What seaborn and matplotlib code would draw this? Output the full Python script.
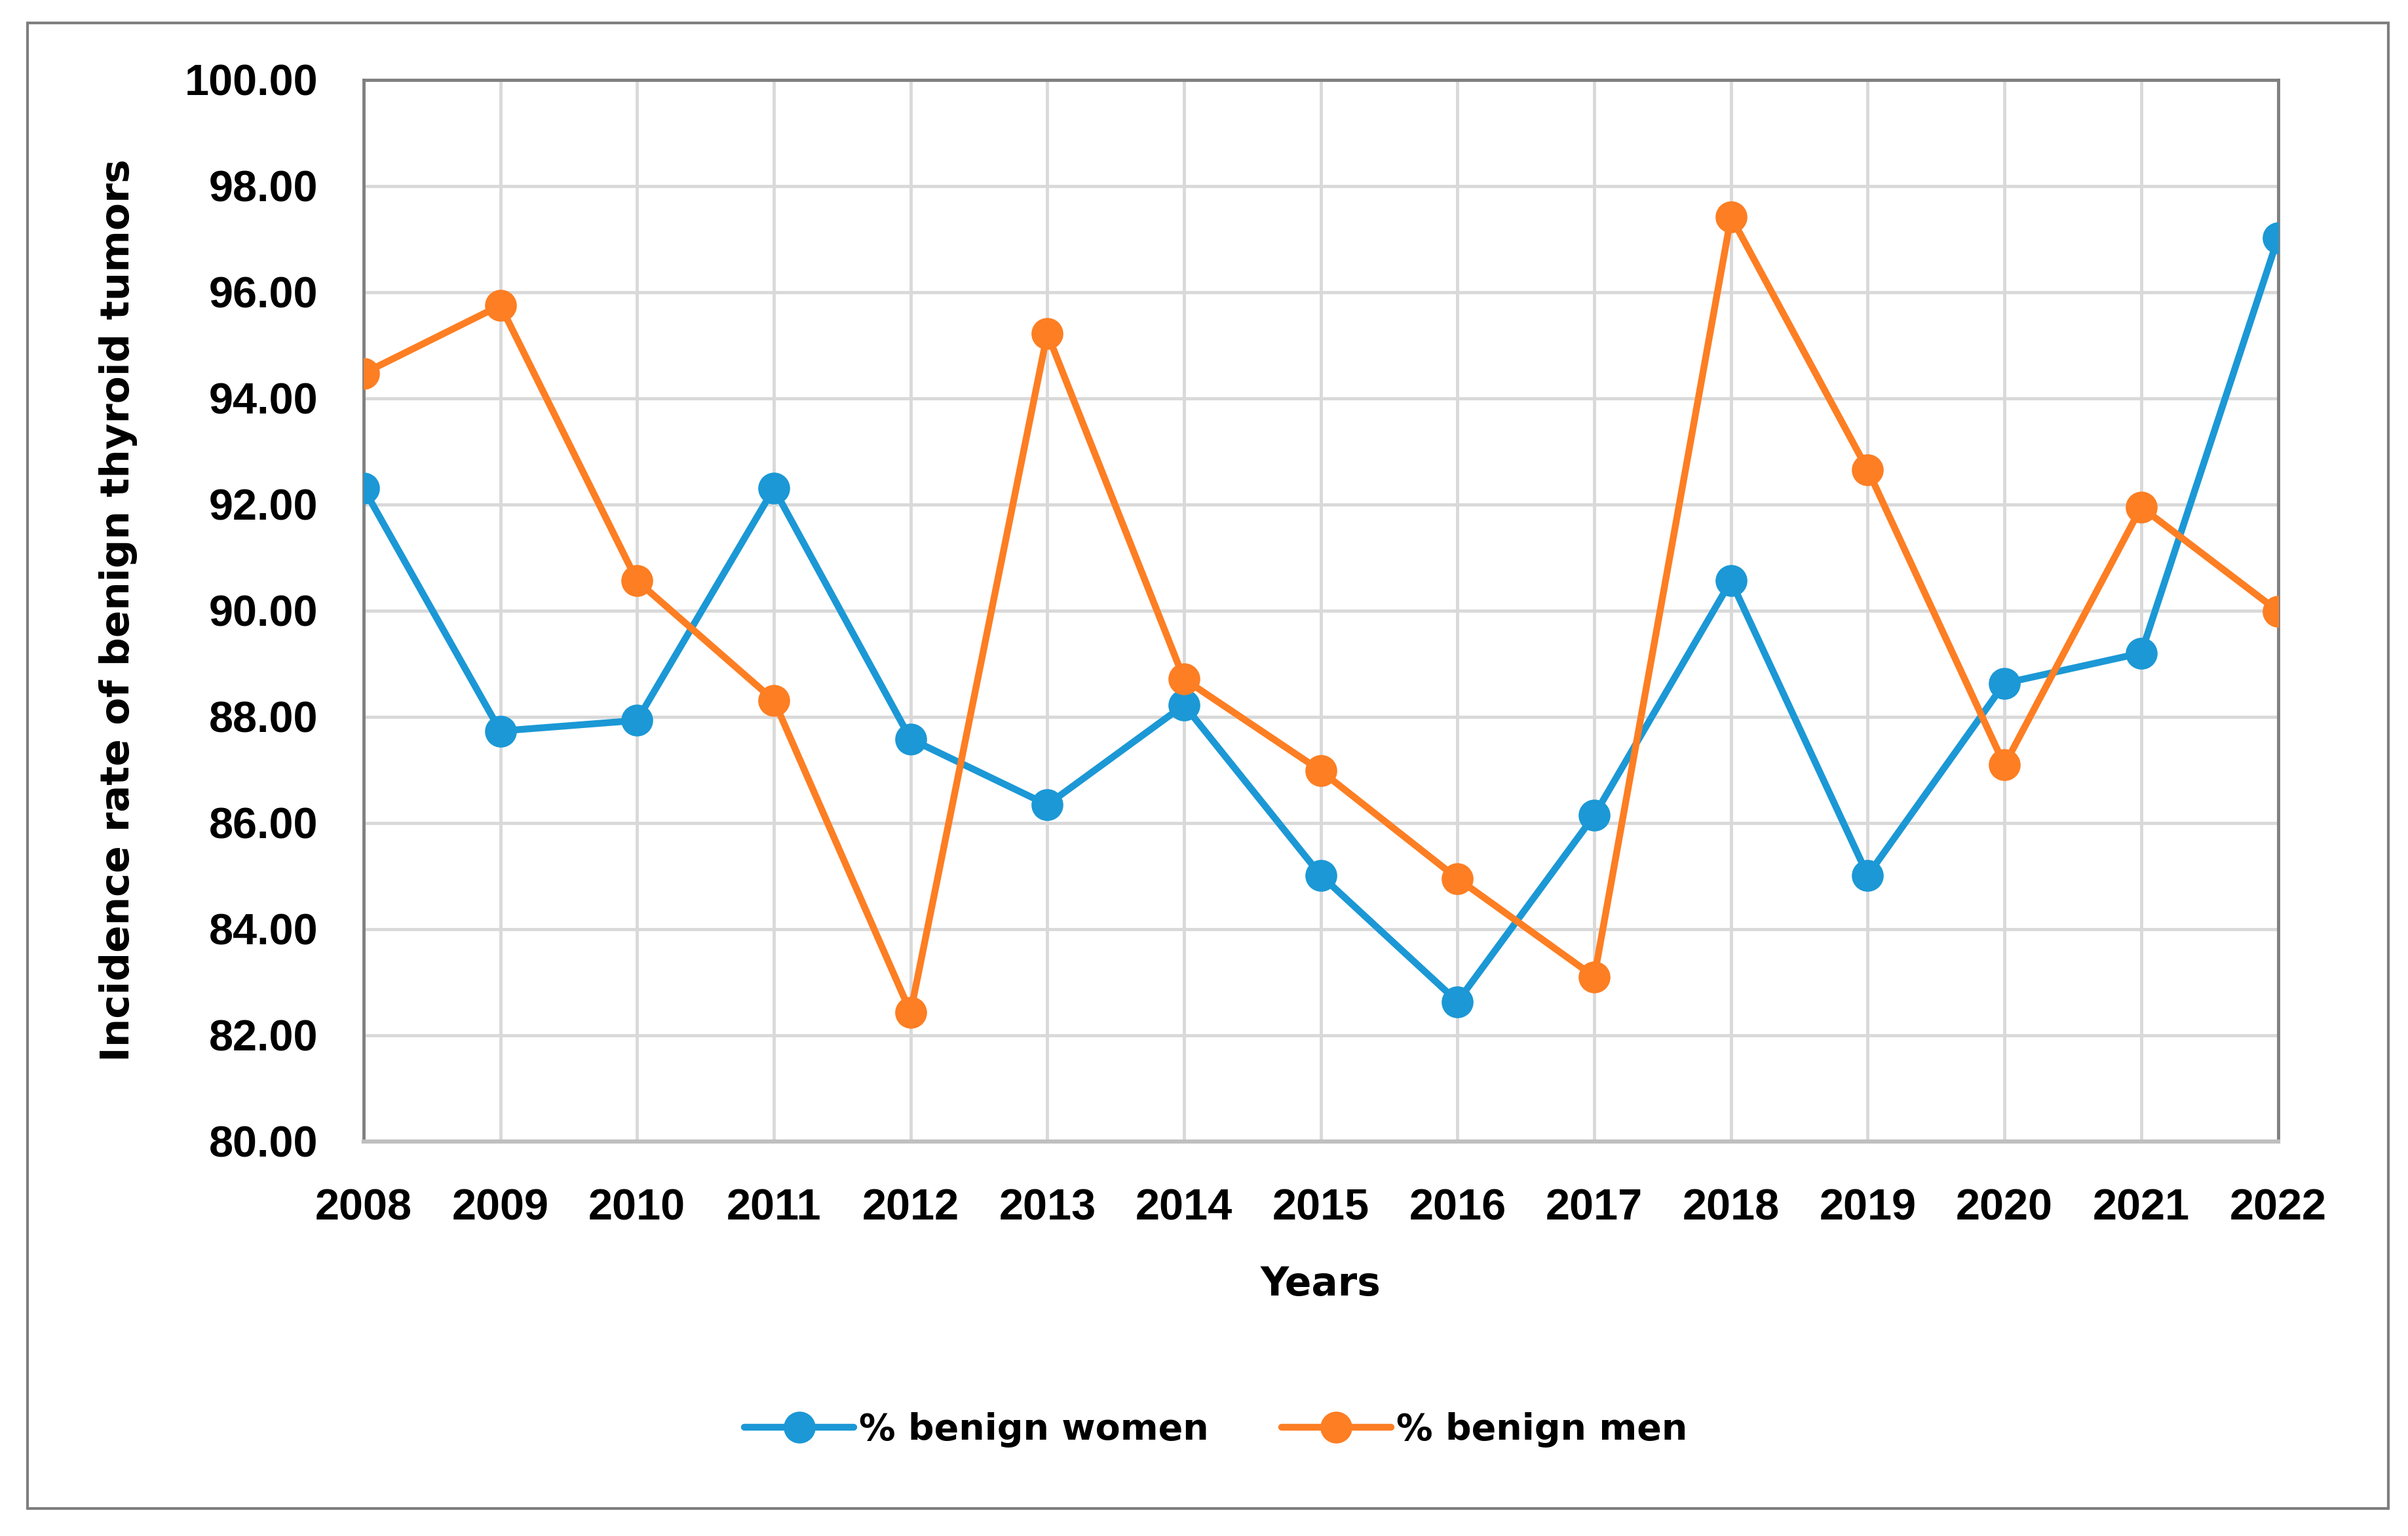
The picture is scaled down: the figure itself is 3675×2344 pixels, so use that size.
import matplotlib
matplotlib.use("Agg")
import matplotlib.pyplot as plt
from matplotlib.patches import Rectangle
import pandas as pd
import seaborn as sns

# values
years = [2008, 2009, 2010, 2011, 2012, 2013, 2014, 2015, 2016, 2017, 2018, 2019, 2020, 2021, 2022]
benign_women = [92.30, 87.73, 87.93, 92.30, 87.58, 86.34, 88.22, 85.01, 82.63, 86.14,
                90.56, 85.01, 88.63, 89.20, 97.02]
benign_men = [94.47, 95.75, 90.56, 88.31, 82.43, 95.22, 88.71, 86.98, 84.95, 83.10,
              97.42, 92.65, 87.09, 91.95, 89.99]
series_names = ["% benign women", "% benign men"]
y_ticks = [80, 82, 84, 86, 88, 90, 92, 94, 96, 98, 100]

df = pd.concat([
    pd.DataFrame({"Year": years, "Value": benign_women, "Series": series_names[0]}),
    pd.DataFrame({"Year": years, "Value": benign_men, "Series": series_names[1]}),
])

sns.set_theme(style="white")
plt.rcParams['font.family'] = ['Liberation Sans', 'DejaVu Sans']
plt.rcParams['text.color'] = 'black'
plt.rcParams['axes.labelcolor'] = 'black'

fig = plt.figure(figsize=(36.75, 23.44), dpi=100)
ax = fig.add_axes([0.151, 0.257, 0.795, 0.691])

palette = {series_names[0]: "#1b98d5", series_names[1]: "#fd7e23"}
sns.lineplot(data=df, x="Year", y="Value", hue="Series", palette=palette,
             marker="o", markersize=35, markeredgewidth=0, linewidth=7.5,
             ax=ax, zorder=3)

ax.set_xlim(2008, 2022)
ax.set_ylim(80, 100)
ax.set_xticks(years)
ax.set_xticklabels([str(y) for y in years], fontsize=48, fontweight="bold")
ax.set_yticks(y_ticks)
ax.set_yticklabels([f"{v:.2f}" for v in y_ticks], fontsize=48, fontweight="bold")
ax.tick_params(axis="both", length=0, colors="black")
ax.tick_params(axis="y", pad=50)
ax.tick_params(axis="x", pad=52)

ax.grid(True, color="#d9d9d9", linewidth=3.5, zorder=0)
ax.set_axisbelow(True)
for side in ["left", "right", "top"]:
    ax.spines[side].set_color("#808080")
    ax.spines[side].set_linewidth(3.5)
ax.spines["bottom"].set_color("#bfbfbf")
ax.spines["bottom"].set_linewidth(4.5)

ax.set_ylabel("Incidence rate of benign thyroid tumors", fontsize=44,
              fontweight="bold", family=["DejaVu Sans"], color="black")
ax.yaxis.set_label_coords(-0.118, 0.5)
ax.set_xlabel("Years", fontsize=43, fontweight="bold", family=["DejaVu Sans"],
              color="black")
ax.xaxis.set_label_coords(0.5, -0.117)

# legend below the plot
handles, labels = ax.get_legend_handles_labels()
ax.get_legend().remove()
fig.legend(handles, labels, loc="center", bbox_to_anchor=(0.505, 0.069), ncol=2,
           frameon=False, handlelength=3.0, columnspacing=2.0, handletextpad=0.15,
           labelcolor="black",
           prop={"family": "DejaVu Sans", "weight": "bold", "size": 40})

# outer frame around the whole chart
fig.patches.append(Rectangle((0.0114, 0.018), 0.9804, 0.967, transform=fig.transFigure,
                             fill=False, edgecolor="#7f7f7f", linewidth=3))

fig.savefig("out.png", dpi=100, facecolor="white")
